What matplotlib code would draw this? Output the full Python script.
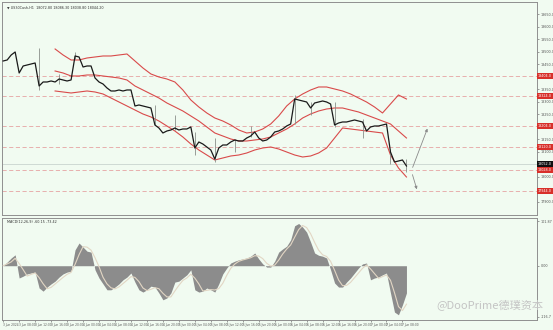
import numpy as np
import pandas as pd
import matplotlib
matplotlib.use("Agg")
import matplotlib.pyplot as plt

# price closes, one per bar
close = [18464, 18468, 18488, 18500, 18416, 18444, 18448, 18452, 18456, 18364,
         18380, 18380, 18384, 18380, 18392, 18388, 18384, 18388, 18484, 18480,
         18440, 18444, 18444, 18396, 18380, 18372, 18356, 18344, 18344, 18348,
         18344, 18348, 18348, 18284, 18288, 18284, 18280, 18276, 18208, 18196,
         18176, 18184, 18188, 18196, 18188, 18192, 18192, 18200, 18116, 18140,
         18132, 18120, 18108, 18072, 18116, 18128, 18128, 18140, 18148, 18144,
         18144, 18156, 18164, 18180, 18156, 18144, 18148, 18160, 18180, 18184,
         18192, 18204, 18212, 18312, 18308, 18304, 18300, 18276, 18296, 18300,
         18304, 18300, 18292, 18208, 18216, 18220, 18220, 18224, 18228, 18224,
         18220, 18184, 18200, 18204, 18204, 18208, 18212, 18100, 18060, 18064,
         18068, 18044]

# a few visible wicks: bar, high, low
wick_bar = [9, 14, 18, 38, 43, 48, 53, 58, 62, 73, 77, 83, 90, 97, 101]
wick_high = [18516, 18412, 18500, 18288, 18248, 18180, 18156, 18150, 18204, 18328, 18300, 18300, 18232, 18110, 18070]
wick_low = [18348, 18372, 18470, 18208, 18188, 18088, 18060, 18100, 18160, 18212, 18248, 18200, 18156, 18050, 18020]

# bollinger bands, read every second bar starting at bar 13
band_bar = list(range(13, 102, 2))
upper = [18512, 18488, 18468, 18468, 18476, 18480, 18484, 18484, 18488, 18492,
         18464, 18436, 18412, 18400, 18392, 18380, 18348, 18308, 18280, 18256,
         18236, 18224, 18208, 18188, 18176, 18180, 18192, 18212, 18244, 18284,
         18312, 18332, 18348, 18360, 18360, 18352, 18344, 18332, 18316, 18300,
         18280, 18256, 18292, 18328, 18312]
middle = [18424, 18416, 18404, 18404, 18408, 18408, 18404, 18400, 18396, 18388,
          18364, 18348, 18332, 18316, 18296, 18280, 18264, 18244, 18224, 18200,
          18176, 18164, 18152, 18144, 18144, 18148, 18152, 18160, 18176, 18192,
          18212, 18236, 18252, 18264, 18272, 18276, 18276, 18268, 18260, 18248,
          18236, 18224, 18212, 18184, 18156]
lower = [18344, 18340, 18336, 18340, 18344, 18340, 18332, 18316, 18300, 18284,
         18268, 18252, 18240, 18224, 18204, 18184, 18160, 18132, 18108, 18088,
         18068, 18076, 18084, 18088, 18096, 18108, 18116, 18120, 18112, 18100,
         18088, 18080, 18084, 18096, 18116, 18156, 18196, 18192, 18188, 18184,
         18180, 18176, 18088, 18036, 18000]

levels = [18404, 18324, 18204, 18120, 18028, 17944]
bid = 18052

# macd histogram per bar
macd = [0, 8, 17, 24, -27, -23, -18, -16, -14, -49,
        -56, -47, -40, -34, -25, -18, -14, -12, 35, 50,
        41, 32, 30, -9, -27, -40, -53, -53, -47, -40,
        -31, -25, -16, -36, -53, -58, -53, -45, -47, -60,
        -75, -71, -60, -36, -34, -27, -20, -9, -53, -58,
        -56, -49, -53, -58, -40, -18, -5, 6, 10, 13,
        15, 17, 21, 28, 15, 4, -3, -3, 10, 30,
        37, 43, 57, 88, 93, 85, 74, 52, 28, 23,
        21, 17, -9, -38, -47, -47, -36, -27, -16, -5,
        4, 6, -31, -27, -25, -20, -16, -60, -102, -108,
        -86, -60]

time_labels = pd.date_range("2024-06-03 04:00", periods=26, freq="4h").strftime("%-d %b %H:%M").tolist()
time_labels[0] = "3 Jun 2024"

bg = "#f1fbf1"
fig = plt.figure(figsize=(5.53, 3.30), dpi=100, facecolor=bg)
ax = fig.add_axes([0.0036, 0.3485, 0.9675, 0.6455], facecolor=bg)
ax2 = fig.add_axes([0.0036, 0.0303, 0.9675, 0.309], facecolor=bg, sharex=ax)

x = np.arange(len(close))
fs = 2.4

# levels and bid line
for lv in levels:
    ax.axhline(lv, color="#e6a3a3", lw=0.6, ls=(0, (5, 3)), zorder=1)
ax.axhline(bid, color="#c9d4cf", lw=0.6, zorder=1)

# bands
ax.plot(band_bar, upper, color="#d94a4a", lw=0.8, zorder=2)
ax.plot(band_bar, middle, color="#d94a4a", lw=0.8, zorder=2)
ax.plot(band_bar, lower, color="#d94a4a", lw=0.8, zorder=2)

# price
ax.vlines(wick_bar, wick_low, wick_high, color="#8a8f8a", lw=0.6, zorder=3)
ax.plot(x, close, color="#1a1a1a", lw=0.9, zorder=4)

# projection arrows
ax.annotate("", xy=(106.5, 18204), xytext=(102.3, 18028),
            arrowprops=dict(arrowstyle="-|>", color="#8a8a8a", lw=0.6, mutation_scale=4))
ax.annotate("", xy=(103.8, 17940), xytext=(102.3, 18020),
            arrowprops=dict(arrowstyle="-|>", color="#8a8a8a", lw=0.6, mutation_scale=4))

ax.set_xlim(-0.3, 133.7)
ax.set_ylim(17848, 18700)
ax.yaxis.tick_right()
# skip scale labels hidden under the marker boxes
marks = levels + [bid]
ticks = [v for v in range(17900, 18700, 50) if min(abs(v - m) for m in marks) > 18]
ax.set_yticks(ticks)
ax.set_yticklabels([f"{v:.1f}" for v in ticks])
ax.tick_params(axis="y", labelsize=fs, length=1.5, width=0.4, pad=1, colors="#555555")
ax.tick_params(axis="x", bottom=False, labelbottom=False)

tr = ax.get_yaxis_transform()
for lv in levels:
    ax.text(1.002, lv, f"{lv:.1f}", transform=tr, fontsize=fs, color="white", va="center", ha="left",
            bbox=dict(fc="#d8302a", ec="none", pad=0.5), clip_on=False, zorder=6)
ax.text(1.002, bid, f"{bid:.1f}", transform=tr, fontsize=fs, color="white", va="center", ha="left",
        bbox=dict(fc="#111111", ec="none", pad=0.5), clip_on=False, zorder=6)

# macd panel
ax2.fill_between(x, 0, macd, color="#8c8c8c", lw=0, zorder=2)
signal = pd.Series(macd).rolling(3, min_periods=1).mean()
ax2.plot(x, signal, color="#e2d6c4", lw=0.8, zorder=3)
ax2.set_ylim(-119.5, 105)
ax2.yaxis.tick_right()
ax2.set_yticks([-112, 0, 98])
ax2.set_yticklabels(["-116.7", "0.00", "101.87"])
ax2.tick_params(axis="y", labelsize=fs, length=1.5, width=0.4, pad=1, colors="#555555")
ax2.set_xticks(np.arange(0, 104, 4))
ax2.set_xticklabels(time_labels, ha="left")
ax2.tick_params(axis="x", labelsize=2.1, length=1.5, width=0.4, pad=1, colors="#555555")

for a in (ax, ax2):
    for s in a.spines.values():
        s.set_color("#8f8f8f")
        s.set_linewidth(0.7)

fig.text(0.012, 0.983, "\u25bc US30Cash,H1  18072.80 18086.30 18038.80 18044.20", fontsize=fs, color="#333333", va="top")
fig.text(0.012, 0.332, "MACD(12,26,9) -60.15 -73.42", fontsize=fs, color="#333333", va="top")

fig.text(0.79, 0.076, "@DooPrime德璞资本", fontsize=8, color="#c4c4c4", va="center", ha="left",
         family=["Noto Sans CJK SC", "DejaVu Sans"])

fig.savefig("out.png", dpi=100, facecolor=bg)
